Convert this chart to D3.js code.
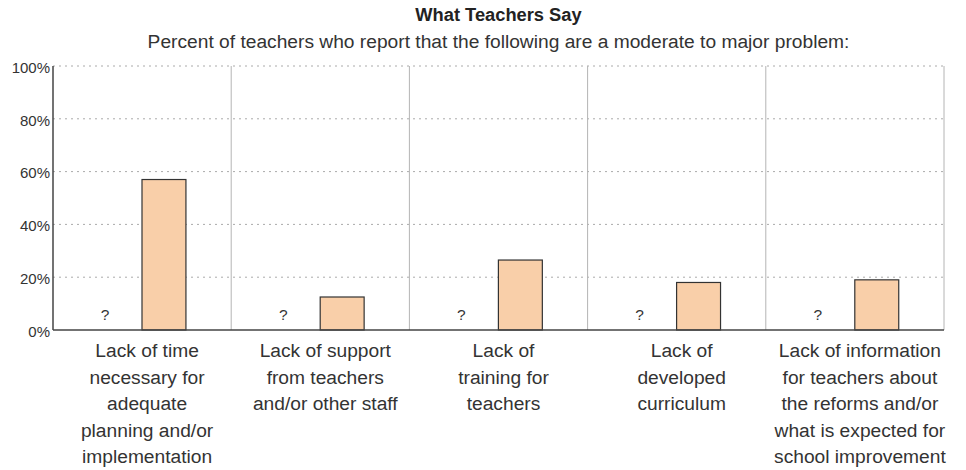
<!DOCTYPE html>
<html>
<head>
<meta charset="utf-8">
<script src="https://cdn.jsdelivr.net/npm/d3@7"></script>
<style>
  body { margin: 0; background: #fff; }
  svg text { font-family: "Liberation Sans", Arial, sans-serif; fill: #333; }
</style>
</head>
<body>
<div id="chart"></div>
<script>
// chart data
var categories = [
  ['Lack of time', 'necessary for', 'adequate', 'planning and/or', 'implementation'],
  ['Lack of support', 'from teachers', 'and/or other staff'],
  ['Lack of', 'training for', 'teachers'],
  ['Lack of', 'developed', 'curriculum'],
  ['Lack of information', 'for teachers about', 'the reforms and/or', 'what is expected for', 'school improvement']
];
var series = ['unknown', 'teachers'];
var unknownValues = [null, null, null, null, null];   // shown as "?"
var teacherValues = [57, 12.5, 26.5, 18, 19];
var yTicks = [0, 20, 40, 60, 80, 100];

var W = 966, H = 470;
var margin = {top: 66, right: 22, bottom: 140, left: 53},
    width = W - margin.left - margin.right,
    height = H - margin.top - margin.bottom;

var svg = d3.select('#chart').append('svg')
            .attr('width', W)
            .attr('height', H);

svg.append('text')
   .attr('x', margin.left + width / 2)
   .attr('y', 21)
   .attr('text-anchor', 'middle')
   .style('font-size', '18.3px')
   .style('font-weight', 'bold')
   .style('fill', '#222')
   .text('What Teachers Say');

svg.append('text')
   .attr('x', margin.left + width / 2)
   .attr('y', 48)
   .attr('text-anchor', 'middle')
   .style('font-size', '19.2px')
   .text('Percent of teachers who report that the following are a moderate to major problem:');

var g = svg.append('g')
           .attr('transform', 'translate(' + margin.left + ',' + margin.top + ')');

var idx = categories.map(function(d, i) { return i; });

var x0 = d3.scaleBand().domain(idx).range([0, width]);
var x1 = d3.scaleBand().domain(series)
           .range([x0.bandwidth() * 0.163, x0.bandwidth() * 0.746])
           .paddingInner(0.267);
var y = d3.scaleLinear().domain([0, 100]).range([height, 0]);

// horizontal dotted grid
g.append('g')
 .selectAll('line')
 .data(yTicks.slice(1))
 .enter().append('line')
 .attr('x1', 0).attr('x2', width)
 .attr('y1', function(d) { return y(d); })
 .attr('y2', function(d) { return y(d); })
 .attr('stroke', '#aaa')
 .attr('stroke-dasharray', '2,4');

// vertical separators between categories
g.append('g')
 .selectAll('line')
 .data(idx.slice(1).concat([null]))
 .enter().append('line')
 .attr('x1', function(d) { return d === null ? width : x0(d); })
 .attr('x2', function(d) { return d === null ? width : x0(d); })
 .attr('y1', y(100)).attr('y2', y(0))
 .attr('stroke', '#b4b4b4')
 .attr('stroke-width', 1);

// y axis labels
var yAxis = d3.axisLeft(y)
              .tickValues(yTicks)
              .tickSize(0)
              .tickPadding(3)
              .tickFormat(function(d) { return d + '%'; });

var ya = g.append('g').call(yAxis);
ya.select('.domain').remove();
ya.selectAll('text')
  .attr('dy', '0.42em')
  .style('font-size', '15px')
  .style('font-family', '"Liberation Sans", Arial, sans-serif')
  .attr('fill', '#333');

// bars
var groups = g.selectAll('.cat')
              .data(idx)
              .enter().append('g')
              .attr('class', 'cat')
              .attr('transform', function(i) { return 'translate(' + x0(i) + ',0)'; });

groups.append('rect')
      .attr('x', x1('teachers'))
      .attr('width', x1.bandwidth())
      .attr('y', function(i) { return y(teacherValues[i]); })
      .attr('height', function(i) { return y(0) - y(teacherValues[i]); })
      .attr('fill', '#f9cfa9')
      .attr('stroke', '#333')
      .attr('stroke-width', 1.2);

groups.filter(function(i) { return unknownValues[i] === null; })
      .append('text')
      .attr('x', x1('unknown') + x1.bandwidth() / 2 + 1)
      .attr('y', y(0) - 10)
      .attr('text-anchor', 'middle')
      .style('font-size', '15.5px')
      .text('?');

// axis lines
g.append('line')
 .attr('x1', 0).attr('x2', 0)
 .attr('y1', y(100)).attr('y2', y(0))
 .attr('stroke', '#444').attr('stroke-width', 1.5);
g.append('line')
 .attr('x1', 0).attr('x2', width)
 .attr('y1', y(0)).attr('y2', y(0))
 .attr('stroke', '#444').attr('stroke-width', 1.5);

// category labels
groups.append('text')
      .attr('text-anchor', 'middle')
      .style('font-size', '19.2px')
      .selectAll('tspan')
      .data(function(i) { return categories[i]; })
      .enter().append('tspan')
      .attr('x', x0.bandwidth() / 2 + 5)
      .attr('y', function(d, j) { return height + 27 + j * 26.6; })
      .text(function(d) { return d; });
</script>
</body>
</html>
